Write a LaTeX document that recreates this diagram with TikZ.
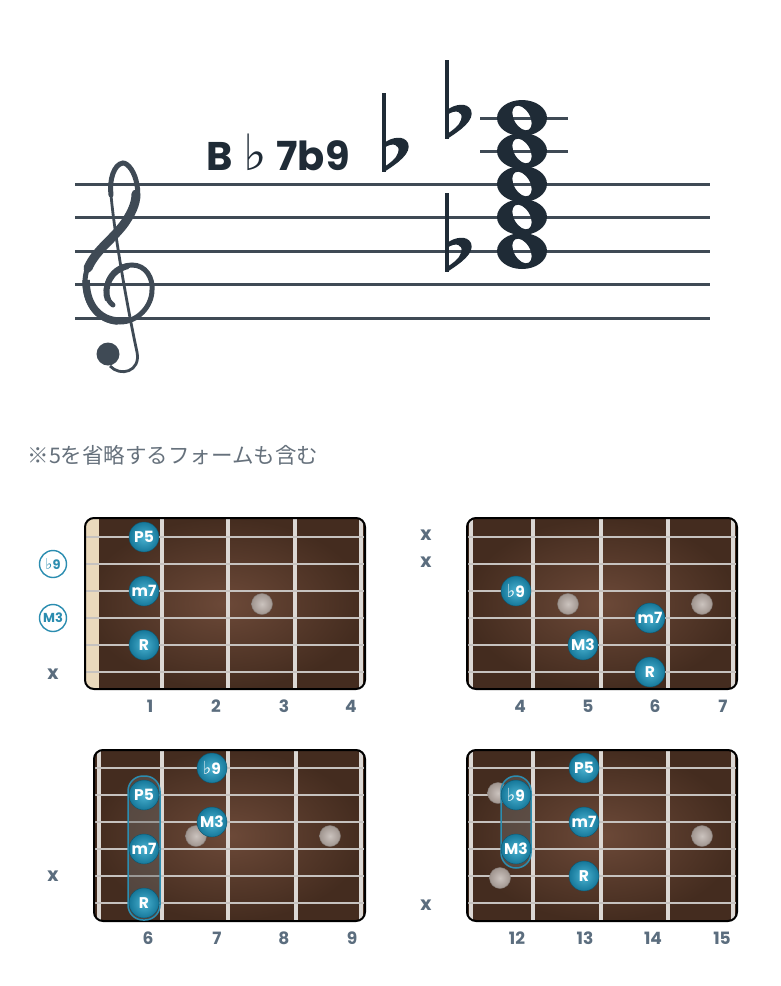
\documentclass[tikz,border=0pt]{standalone}
\usepackage{fontspec}
\setmainfont{Poppins}
\newfontfamily\dejavu{DejaVu Sans}
\newfontfamily\jpfont{Noto Sans CJK JP}
\usepackage{tikz}
\usepackage{xcolor}

\definecolor{staffink}{HTML}{3F4A55}
\definecolor{noteink}{HTML}{1F2B36}
\definecolor{numgray}{HTML}{5B6D7E}
\definecolor{jpgray}{HTML}{66717C}
\definecolor{dotblue}{HTML}{16789A}
\definecolor{dotlight}{HTML}{4AB2D1}
\definecolor{ringblue}{HTML}{2B8DB0}
\definecolor{boardmid}{HTML}{6C4938}
\definecolor{boarddark}{HTML}{442C1F}
\definecolor{wiregray}{HTML}{DCD8D4}
\definecolor{nutbeige}{HTML}{EAD9BC}
\definecolor{ghostin}{HTML}{CBC3BE}
\definecolor{ghostout}{HTML}{A0958F}

\begin{document}
\begin{tikzpicture}[x=1pt,y=-1pt]
        \useasboundingbox[fill=white] (0,0) rectangle (780,986);
        \tikzset{
            staffline/.style={draw=staffink,line width=3},
            board/.style={rounded corners=9,inner color=boardmid,outer color=boarddark},
            boardedge/.style={draw=black,line width=2,rounded corners=9},
            fretwire/.style={draw=wiregray,line width=3.5},
            stringwire/.style={draw=wiregray!90!black,line width=2},
            barre/.style={draw=ringblue,line width=1.5,rounded corners=15,fill=black!60,fill opacity=0.45},
            noteball/.style={circle,minimum size=30,inner sep=0,shade,inner color=dotlight,outer color=dotblue,
                draw=dotblue!70!black,text=white,font=\bfseries\fontsize{15.5}{15.5}\selectfont},
            ghostdot/.style={circle,minimum size=21,inner sep=0,shade,inner color=ghostin,outer color=ghostout,
                draw=ghostout!80!black},
            ringlabel/.style={circle,minimum size=27,inner sep=0,draw=ringblue,line width=1.4,text=ringblue,
                font=\bfseries\fontsize{13}{13}\selectfont},
            mutex/.style={text=numgray,font=\bfseries\fontsize{19}{19}\selectfont},
            fretnum/.style={text=numgray,font=\bfseries\fontsize{17}{17}\selectfont}
        }
        \newcommand{\flt}[1]{{\mdseries\dejavu\fontsize{#1}{#1}\selectfont ♭}}

        % staff and clef
        \foreach \sy in {184,217,251,284,318}
            \draw[staffline] (75,\sy) -- (710,\sy);
        \draw[staffline] (480,118) -- (568,118);
        \draw[staffline] (480,151) -- (568,151);

        \draw[staffink,line width=5,line cap=round] (113,305)
            .. controls (100,296) and (106,266) .. (132,265)
            .. controls (146,265) and (153,278) .. (152,290)
            .. controls (152,306) and (138,322) .. (120,322)
            .. controls (100,322) and (85,306) .. (85,282)
            .. controls (85,255) and (112,240) .. (124,224)
            .. controls (134,210) and (140,198) .. (137,185)
            .. controls (135,172) and (128,163) .. (123,163)
            .. controls (114,164) and (109,180) .. (111,195);
        \draw[staffink,line width=9,line cap=round] (88,268) .. controls (96,250) and (112,240) .. (124,224)
            .. controls (131,214) and (136,204) .. (136,194);
        \draw[staffink,line width=7.5] (86,280) .. controls (86,306) and (100,320) .. (118,321);
        \draw[staffink,line width=6] (108,300) .. controls (103,288) and (110,270) .. (128,266);
        \draw[staffink,line width=2.8] (111,195) .. controls (115,240) and (130,320) .. (137,352)
            .. controls (141,372) and (120,377) .. (110,366);
        \fill[staffink] (108,354) circle (11.5);

        % flats and chord
        \foreach \fx/\fy in {384/151,447/118,447/251} {
            \draw[noteink,line width=3.5] (\fx,\fy-58) -- (\fx,\fy+21);
            \fill[noteink] (\fx,\fy+21) .. controls (\fx+14,\fy+12) and (\fx+28,\fy+2) .. (\fx+24,\fy-8)
                .. controls (\fx+20,\fy-16) and (\fx+8,\fy-14) .. (\fx,\fy-8) -- (\fx,\fy-3)
                .. controls (\fx+8,\fy-9) and (\fx+17,\fy-7) .. (\fx+14,\fy+2)
                .. controls (\fx+12,\fy+8) and (\fx+6,\fy+12) .. (\fx,\fy+16) -- cycle;
        }
        \foreach \ny in {251,217,184,151,118}
            \fill[noteink,even odd rule] (522,\ny) ellipse [x radius=25,y radius=18]
                (522,\ny) ellipse [x radius=8,y radius=13.5,rotate=30];

        \node[anchor=base west,text=noteink,font=\bfseries\fontsize{40}{40}\selectfont] (chordname) at (203,170)
            {B\hspace{11pt}\flt{50}\hspace{9pt}7b9};

        \node[anchor=west,text=jpgray,font=\jpfont\fontsize{21.5}{21.5}\selectfont] (note) at (24,455)
            {※5を省略するフォームも含む};

        % box 1 (frets 1-4)
        \shade[board] (85,518) rectangle (365,689);
        \begin{scope}
            \clip[rounded corners=9] (85,518) rectangle (365,689);
            \fill[nutbeige] (85,518) rectangle (99,689);
        \end{scope}
        \foreach \fx in {162,228,295,361}
            \draw[fretwire] (\fx,519) -- (\fx,688);
        \foreach \sy in {537,564,591,618,645,672}
            \draw[stringwire] (86,\sy) -- (364,\sy);
        \draw[boardedge] (85,518) rectangle (365,689);
        \node[ghostdot] (ga1) at (262,604) {};
        \node[noteball] (p5a) at (144,537) {P5};
        \node[noteball] (m7a) at (144,591) {m7};
        \node[noteball] (ra) at (144,645) {R};
        \node[ringlabel] (b9a) at (53,564) {\flt{15}9};
        \node[ringlabel] (m3a) at (53,618) {M3};
        \node[mutex] (xa) at (53,674) {x};
        \node[fretnum] (na1) at (150,706) {1};
        \node[fretnum] (na2) at (216,706) {2};
        \node[fretnum] (na3) at (284,706) {3};
        \node[fretnum] (na4) at (351,706) {4};

        % box 2 (frets 4-7)
        \shade[board] (467,518) rectangle (737,689);
        \foreach \fx in {471,533,601,668,733}
            \draw[fretwire] (\fx,519) -- (\fx,688);
        \foreach \sy in {537,564,591,618,645,672}
            \draw[stringwire] (468,\sy) -- (736,\sy);
        \draw[boardedge] (467,518) rectangle (737,689);
        \node[ghostdot] (gb1) at (568,604) {};
        \node[ghostdot] (gb2) at (702,604) {};
        \node[noteball] (b9b) at (516,591) {\flt{18}9};
        \node[noteball] (m3b) at (583,645) {M3};
        \node[noteball] (m7b) at (650,618) {m7};
        \node[noteball] (rb) at (650,672) {R};
        \node[mutex] (xb1) at (426,535) {x};
        \node[mutex] (xb2) at (426,562) {x};
        \node[fretnum] (nb1) at (520,706) {4};
        \node[fretnum] (nb2) at (588,706) {5};
        \node[fretnum] (nb3) at (655,706) {6};
        \node[fretnum] (nb4) at (723,706) {7};

        % box 3 (frets 6-9)
        \shade[board] (94,750) rectangle (365,921);
        \foreach \fx in {99,162,228,296,361}
            \draw[fretwire] (\fx,751) -- (\fx,920);
        \foreach \sy in {768,795,822,849,876,903}
            \draw[stringwire] (95,\sy) -- (364,\sy);
        \draw[boardedge] (94,750) rectangle (365,921);
        \node[ghostdot] (gc1) at (196,836) {};
        \node[ghostdot] (gc2) at (330,836) {};
        \draw[barre] (128,776) rectangle (160,920);
        \node[noteball] (b9c) at (212,768) {\flt{18}9};
        \node[noteball] (p5c) at (144,795) {P5};
        \node[noteball] (m3c) at (212,822) {M3};
        \node[noteball] (m7c) at (144,849) {m7};
        \node[noteball] (rc) at (144,903) {R};
        \node[mutex] (xc) at (53,876) {x};
        \node[fretnum] (nc1) at (148,938) {6};
        \node[fretnum] (nc2) at (217,938) {7};
        \node[fretnum] (nc3) at (284,938) {8};
        \node[fretnum] (nc4) at (352,938) {9};

        % box 4 (frets 12-15)
        \shade[board] (467,750) rectangle (737,921);
        \foreach \fx in {471,533,601,668,733}
            \draw[fretwire] (\fx,751) -- (\fx,920);
        \foreach \sy in {768,795,822,849,876,903}
            \draw[stringwire] (468,\sy) -- (736,\sy);
        \draw[boardedge] (467,750) rectangle (737,921);
        \node[ghostdot] (gd1) at (498,793) {};
        \node[ghostdot] (gd2) at (500,878) {};
        \node[ghostdot] (gd3) at (702,836) {};
        \draw[barre] (501,776) rectangle (531,868);
        \node[noteball] (p5d) at (584,768) {P5};
        \node[noteball] (b9d) at (516,795) {\flt{18}9};
        \node[noteball] (m7d) at (584,822) {m7};
        \node[noteball] (m3d) at (516,849) {M3};
        \node[noteball] (rd) at (584,876) {R};
        \node[mutex] (xd) at (426,905) {x};
        \node[fretnum] (nd1) at (517,938) {12};
        \node[fretnum] (nd2) at (585,938) {13};
        \node[fretnum] (nd3) at (653,938) {14};
        \node[fretnum] (nd4) at (722,938) {15};
    \end{tikzpicture}
\end{document}
